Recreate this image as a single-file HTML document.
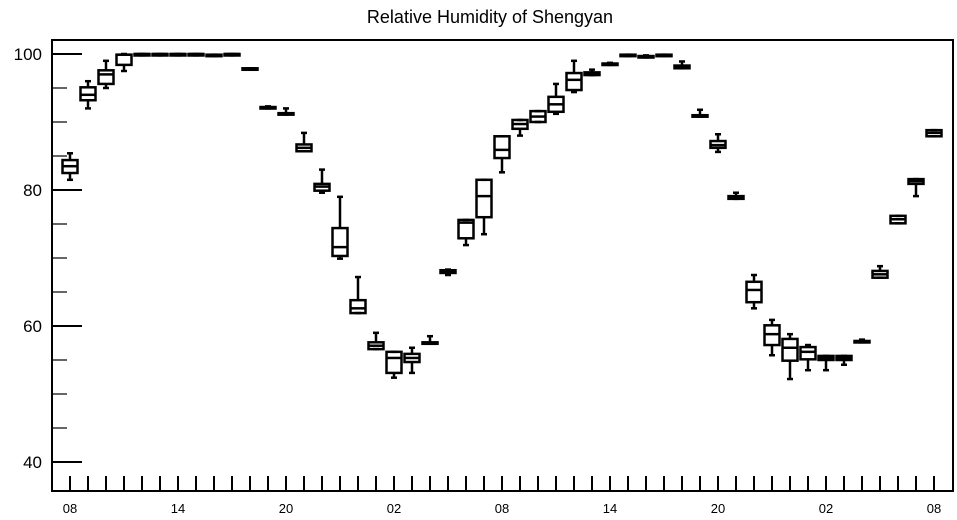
<!DOCTYPE html>
<html><head><meta charset="utf-8"><style>
body{margin:0;background:#fff;}
svg{display:block;font-family:"Liberation Sans",Arial,sans-serif;}
</style></head><body>
<svg id="chart" width="957" height="520">
<text x="490" y="23" text-anchor="middle" font-size="18">Relative Humidity of Shengyan</text>
<rect x="52" y="40" width="901" height="451" fill="none" stroke="#000" stroke-width="2"/>
<g id="yaxis"></g>
<g id="xaxis"></g>
<g id="boxes"></g>
</svg>
<script>
const yTicks=[40,60,80,100];
const xLabels=["08","14","20","02","08","14","20","02","08"];
const q1s=[82.5,93.2,95.6,98.4,99.8,99.8,99.8,99.8,99.7,99.8,97.7,92.0,91.1,85.7,79.9,70.3,61.9,56.6,53.1,54.7,57.4,67.8,72.9,76.0,84.7,89.0,90.0,91.5,94.7,96.9,98.4,99.7,99.5,99.7,97.9,90.8,86.2,78.7,63.5,57.2,54.9,55.1,55.0,55.0,57.6,67.1,75.1,80.9,87.9];
const meds=[83.5,94.0,97.0,99.9,100,100,100,100,99.8,100,97.8,92.1,91.2,86.2,80.5,71.6,62.6,57.1,55.3,55.3,57.5,68.0,75.2,79.1,85.9,89.7,90.8,92.6,96.2,97.1,98.5,99.8,99.6,99.8,98.1,90.9,86.6,78.9,65.3,58.8,56.8,56.2,55.3,55.3,57.7,67.6,75.7,81.3,88.4];
const q3s=[84.4,95.1,97.6,99.9,100,100,100,100,99.9,100,97.9,92.2,91.3,86.7,80.9,74.4,63.8,57.6,56.2,55.9,57.6,68.2,75.6,81.5,87.9,90.3,91.6,93.7,97.2,97.3,98.6,99.9,99.7,99.9,98.3,91.0,87.2,79.1,66.5,60.1,58.1,56.9,55.6,55.6,57.8,68.1,76.2,81.6,88.8];
const mins=[81.5,92.0,95.0,97.5,99.8,99.8,99.8,99.8,99.7,99.8,97.7,92.0,91.1,85.7,79.6,69.9,61.9,56.6,52.4,53.1,57.4,67.5,71.9,73.5,82.6,88.0,90.0,91.2,94.4,96.9,98.4,99.7,99.5,99.7,97.9,90.8,85.6,78.7,62.6,55.7,52.2,53.5,53.5,54.3,57.6,67.1,75.1,79.1,87.9];
const maxs=[85.4,96.0,99.0,100,100,100,100,100,99.9,100,97.9,92.3,92.0,88.4,83.0,79.0,67.2,59.0,56.2,56.8,58.5,68.3,75.6,81.5,87.9,90.3,91.6,95.6,99.0,97.7,98.7,99.9,99.8,99.9,98.9,91.8,88.2,79.6,67.5,60.9,58.8,57.2,55.6,55.6,58.0,68.8,76.2,81.6,88.8];
const NS="http://www.w3.org/2000/svg";
const X0=70,DX=18,Y100=54,PPU=6.8;
function yS(v){return Y100+(100-v)*PPU;}
function xS(i){return X0+i*DX;}
function mk(tag,attrs,parent){const e=document.createElementNS(NS,tag);for(const k in attrs)e.setAttribute(k,attrs[k]);parent.appendChild(e);return e;}
const ya=document.getElementById('yaxis'),xa=document.getElementById('xaxis'),bx=document.getElementById('boxes');
for(let v=40;v<=100;v+=5){
  const major=yTicks.includes(v);
  const l=mk('line',{x1:52,x2:major?82:67,y1:yS(v),y2:yS(v),stroke:'#000','stroke-width':major?2:1.2},ya);
  
  
}
yTicks.forEach(v=>{
  const t=mk('text',{x:42,y:yS(v)+6,'text-anchor':'end','font-size':17},ya);
  t.textContent=v;
  
  
});
for(let i=0;i<q1s.length;i++){
  const l=mk('line',{x1:xS(i),x2:xS(i),y1:476,y2:491,stroke:'#000','stroke-width':2},xa);
  
  
}
xLabels.forEach((s,k)=>{
  const t=mk('text',{x:xS(k*6),y:513,'text-anchor':'middle','font-size':13},xa);
  t.textContent=s;
  
  
});
for(let i=0;i<q1s.length;i++){
  const g=mk('g',{stroke:'#000','stroke-width':2.5,fill:'none'},bx);
  
  
  const x=xS(i),w=15;
  const top=yS(q3s[i]),bot=yS(q1s[i]);
  mk('line',{x1:x,x2:x,y1:yS(maxs[i]),y2:top},g);
  mk('line',{x1:x,x2:x,y1:bot,y2:yS(mins[i])},g);
  mk('line',{x1:x-3,x2:x+3,y1:yS(maxs[i]),y2:yS(maxs[i])},g);
  mk('line',{x1:x-3,x2:x+3,y1:yS(mins[i]),y2:yS(mins[i])},g);
  mk('rect',{x:x-w/2,y:top,width:w,height:Math.max(bot-top,1.5)},g);
  mk('line',{x1:x-w/2,x2:x+w/2,y1:yS(meds[i]),y2:yS(meds[i])},g);
}
</script>
</body></html>
